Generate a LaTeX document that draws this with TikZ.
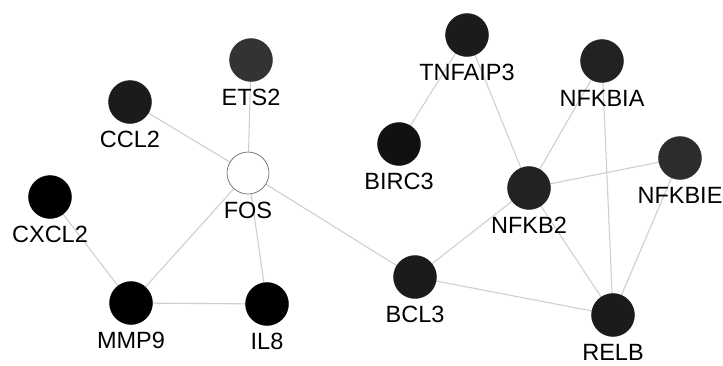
\documentclass[tikz,border=0pt]{standalone}
\usepackage{fontspec}
\setmainfont{Liberation Sans}
\usetikzlibrary{backgrounds}
\definecolor{edgegray}{HTML}{CFCFCF}
\definecolor{g0}{HTML}{000000}
\definecolor{g1}{HTML}{111111}
\definecolor{g2}{HTML}{1B1B1B}
\definecolor{g3}{HTML}{222222}
\definecolor{g4}{HTML}{2C2C2C}
\definecolor{g5}{HTML}{333333}
\tikzset{
  gene/.style={circle, minimum size=43pt, inner sep=0pt, draw=#1, fill=#1, line width=0.4pt},
  hub/.style={circle, minimum size=42pt, inner sep=0pt, draw=black!65, fill=white, line width=0.6pt},
  lab/.style={inner sep=0pt, anchor=base, font=\fontsize{23.5}{28}\selectfont, text=black},
  link/.style={draw=edgegray, line width=1.1pt}
}
% \gene{name}{x}{y}{colour}{text}
\newcommand{\gene}[5]{%
  \node[gene=#4] (#1) at (#2pt,-#3pt) {};
  \node[lab] (#1-l) at ([yshift=-45pt]#1.center) {#5};
}
\begin{document}
\begin{tikzpicture}[x=1pt,y=1pt]
\useasboundingbox (0,0) rectangle (723,-365);
\node[hub] (fos) at (248pt,-173pt) {};
\node[lab] (fos-l) at ([yshift=-45pt]fos.center) {FOS};
\gene{ets2}{251}{60}{g5}{ETS2}
\gene{ccl2}{130}{102}{g2}{CCL2}
\gene{cxcl2}{50}{197}{g0}{CXCL2}
\gene{mmp9}{131}{303}{g0}{MMP9}
\gene{il8}{267}{304}{g0}{IL8}
\gene{bcl3}{415}{277}{g2}{BCL3}
\gene{tnfaip3}{467}{35}{g2}{TNFAIP3}
\gene{birc3}{399}{144}{g1}{BIRC3}
\gene{nfkb2}{529}{188}{g3}{NFKB2}
\gene{nfkbia}{602}{61}{g3}{NFKBIA}
\gene{nfkbie}{680}{158}{g4}{NFKBIE}
\gene{relb}{613}{315}{g2}{RELB}
\begin{scope}[on background layer]
  \draw[link] (ets2.center) -- (fos.center);
  \draw[link] (ccl2.center) -- (fos.center);
  \draw[link] (cxcl2.center) -- (mmp9.center);
  \draw[link] (fos.center) -- (mmp9.center);
  \draw[link] (fos.center) -- (il8.center);
  \draw[link] (mmp9.center) -- (il8.center);
  \draw[link] (fos.center) -- (bcl3.center);
  \draw[link] (bcl3.center) -- (nfkb2.center);
  \draw[link] (bcl3.center) -- (relb.center);
  \draw[link] (tnfaip3.center) -- (birc3.center);
  \draw[link] (tnfaip3.center) -- (nfkb2.center);
  \draw[link] (nfkbia.center) -- (nfkb2.center);
  \draw[link] (nfkbia.center) -- (relb.center);
  \draw[link] (nfkb2.center) -- (nfkbie.center);
  \draw[link] (nfkb2.center) -- (relb.center);
  \draw[link] (nfkbie.center) -- (relb.center);
\end{scope}
\end{tikzpicture}
\end{document}
